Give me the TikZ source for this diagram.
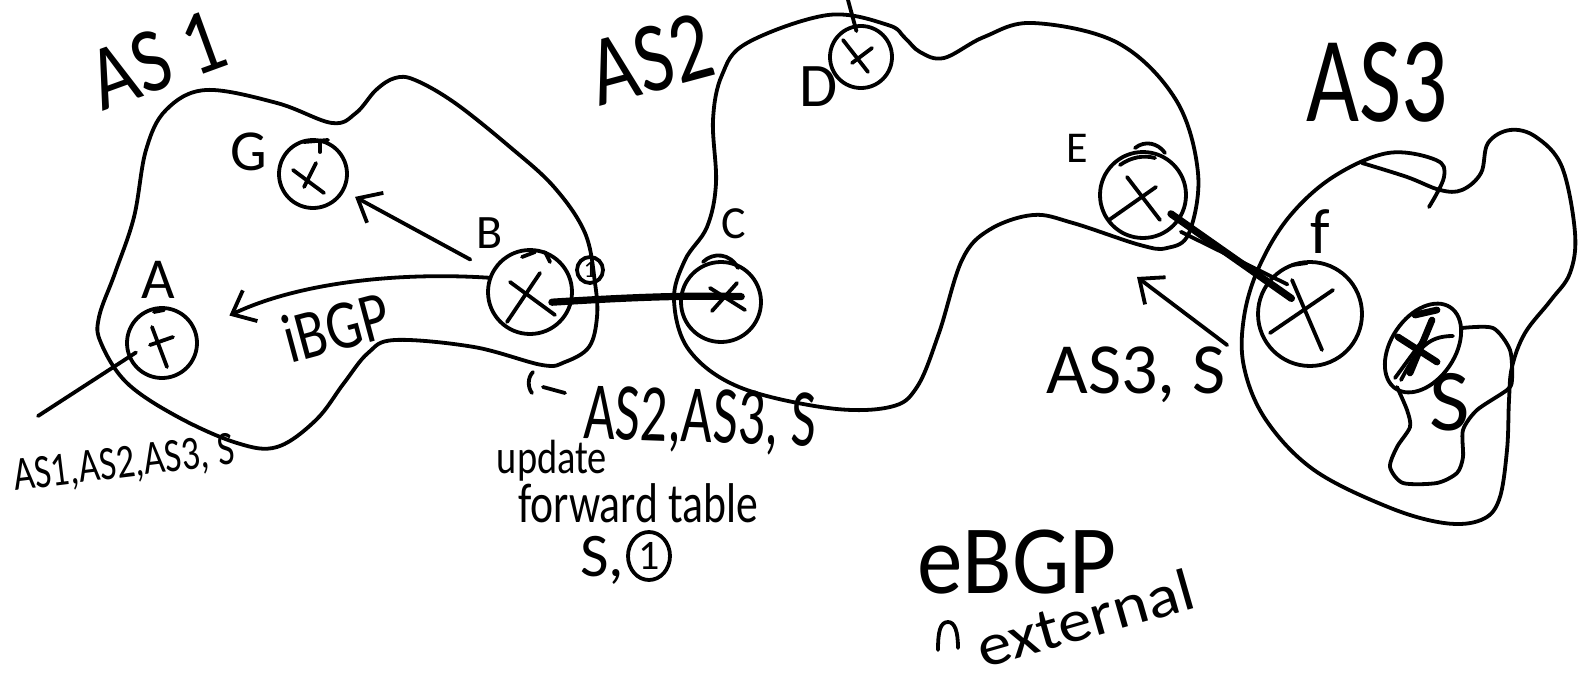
\documentclass[tikz,border=0pt]{standalone}
\usepackage{fontspec}
\setmainfont{Carlito}
\usetikzlibrary{arrows.meta,calc,shapes.geometric}
\newcommand\myfs[1]{\fontsize{#1}{#1}\selectfont}
\begin{document}
\begin{tikzpicture}[x=0.5pt,y=-0.5pt,line width=1.9pt,line cap=round,line join=round,
  router/.style={circle,draw,inner sep=0pt},
  lbl/.style={inner sep=0pt},
  arr/.style={-{Straight Barb[length=10pt,width=17pt]}},
  ebgp/.style={line width=3.6pt},
  heavy/.style={line width=3.4pt}]
\fill[white] (0,0) rectangle (1580,685);
\useasboundingbox (0,0) rectangle (1580,685);

% ---------- AS outlines ----------
\draw plot[smooth cycle,tension=0.6] coordinates {(206,90) (277,103) (332,123) (356,113) (376,90) (395,78) (415,80) (455,103) (510,147) (554,187) (585,233) (595,283) (597,317) (589,347) (565,362) (542,365) (474,347) (395,340) (368,353) (344,383) (316,420) (277,447) (237,443) (178,417) (127,383) (101,343) (99,317) (115,273) (134,217) (146,150) (166,110)};

\draw plot[smooth cycle,tension=0.6] coordinates {(747,43) (828,15) (888,25) (905,38) (920,52) (944,58) (984,37) (1033,23) (1118,43) (1176,100) (1198,173) (1189,233) (1167,248) (1140,245) (1073,223) (1033,215) (989,230) (962,260) (939,333) (917,387) (890,407) (828,408) (739,387) (689,350) (674,300) (685,260) (707,227) (716,183) (713,120) (722,75)};

\draw plot[smooth,tension=0.6] coordinates {(1362,163) (1407,177) (1440,190) (1462,190) (1481,173) (1488,143) (1510,130) (1536,137) (1562,167) (1575,233) (1570,273) (1551,300) (1525,333) (1512,367) (1509,400) (1507,450) (1499,500) (1481,520) (1444,523) (1388,507) (1314,470) (1266,420) (1244,367) (1244,317) (1259,267) (1289,217) (1333,177) (1388,153) (1436,160) (1444,177) (1429,207)};

\draw plot[smooth,tension=0.45] coordinates {(1462,328) (1493,328) (1510,350) (1512,380) (1507,390) (1477,410) (1463,430) (1463,457) (1457,473) (1437,483) (1403,483) (1390,467) (1397,447) (1410,427) (1407,410) (1397,387)};

% ---------- routers ----------
\node[router,minimum size=35pt] (A) at (162,343) {};
\node[router,minimum size=34pt] (G) at (313,174) {};
\node[router,minimum size=42pt] (B) at (530,292) {};
\node[router,minimum size=13pt] (if1) at (590,270) {\myfs{12}1};
\node[router,minimum size=40pt] (C) at (721,302) {};
\node[router,minimum size=31pt] (D) at (861,57) {};
\node[router,minimum size=43pt] (E) at (1143,195) {};
\node[router,minimum size=52pt] (F) at (1310,314) {};
\node[ellipse,draw,inner sep=0pt,minimum width=49pt,minimum height=32pt,rotate=56] (X) at (1423,348) {};

% crosses
\draw ([shift={(-10,-16)}]A.center) -- ([shift={(5,24)}]A.center);
\draw ([shift={(-12,2)}]A.center) -- ([shift={(11,-6)}]A.center);
\draw ([shift={(-8,-31)}]A.center) -- ([shift={(2,-33)}]A.center);
\draw ([shift={(-20,-4)}]G.center) -- ([shift={(11,19)}]G.center);
\draw ([shift={(-9,13)}]G.center) -- ([shift={(3,-11)}]G.center);
\draw ([shift={(-9,-32)}]G.center) -- ([shift={(15,-34)}]G.center);
\draw ([shift={(7,-32)}]G.center) -- ([shift={(7,-22)}]G.center);
\draw ([shift={(-20,-10)}]B.center) -- ([shift={(25,23)}]B.center);
\draw ([shift={(10,-19)}]B.center) -- ([shift={(-23,30)}]B.center);
\draw ([shift={(-8,-35)}]B.center) -- ([shift={(5,-40)}]B.center);
\draw ([shift={(15,-40)}]B.center) -- ([shift={(20,-30)}]B.center);
\draw ([shift={(-11,-14)}]C.center) -- ([shift={(24,8)}]C.center);
\draw ([shift={(16,-19)}]C.center) -- ([shift={(-9,9)}]C.center);
\draw ([shift={(-18,-17)}]D.center) -- ([shift={(7,15)}]D.center);
\draw ([shift={(-9,6)}]D.center) -- ([shift={(11,-9)}]D.center);
\draw ([shift={(-16,-18)}]E.center) -- ([shift={(17,25)}]E.center);
\draw ([shift={(-34,25)}]E.center) -- ([shift={(13,-8)}]E.center);
\draw ([shift={(-18,-34)}]F.center) -- ([shift={(12,36)}]F.center);
\draw ([shift={(-40,19)}]F.center) -- ([shift={(23,-24)}]F.center);
\draw ([shift={(-18,-49)}]F.center) -- ([shift={(-3,-51)}]F.center);
\draw[heavy] ([shift={(-25,-11)}]X.center) -- ([shift={(14,14)}]X.center);
\draw[heavy] ([shift={(9,-28)}]X.center) -- ([shift={(-13,25)}]X.center);
\draw ([shift={(-28,30)}]X.center) -- ([shift={(5,-15)}]X.center);
\draw ([shift={(-22,32)}]X.center) .. controls ([shift={(-5,0)}]X.center) and ([shift={(5,-12)}]X.center) .. ([shift={(30,-12)}]X.center);
\draw[heavy] ([shift={(-8,-33)}]X.center) -- ([shift={(14,-38)}]X.center);

% double arcs on C and E
\draw (703,262) .. controls (713,252) and (730,253) .. (738,268);
\draw (1135,148) .. controls (1145,140) and (1158,143) .. (1165,153);
\draw (1120,165) .. controls (1131,157) and (1144,155) .. (1155,158);

% ---------- labels ----------
\node[lbl,font=\myfs{29}] (lA) at (158,280) {A};
\node[lbl,font=\myfs{29}] (lG) at (249,152) {G};
\node[lbl,font=\myfs{24}] (lB) at (490,233) {B};
\node[lbl,font=\myfs{23}] (lC) at (734,224) {C};
\node[lbl,font=\myfs{31}] (lD) at (819,87) {D};
\node[lbl,font=\myfs{22}] (lE) at (1077,148) {E};
\node[lbl,font=\myfs{32}] (lF) at (1320,232) {f};
\node[lbl,font=\myfs{44}] (lS) at (1450,402) {S};

\node[lbl,font=\myfs{46},rotate=20,xscale=0.85] (as1) at (157,60) {AS 1};
\node[lbl,font=\myfs{50},rotate=15,xscale=0.8] (as2) at (651,59) {AS2};
\node[lbl,font=\myfs{61},xscale=0.75] (as3) at (1377,82) {AS3};
\node[lbl,font=\myfs{35},rotate=15,xscale=0.8] (ibgp) at (336,327) {iBGP};
\node[lbl,font=\myfs{24},rotate=7,xscale=0.76] (path1) at (124,465) {AS1,AS2,AS3, S};
\node[lbl,font=\myfs{41},rotate=-2,xscale=0.66] (path2) at (700,421) {AS2,AS3, S};
\node[lbl,font=\myfs{24},xscale=0.8] (upd) at (552,461) {update};
\node[lbl,font=\myfs{28},xscale=0.78] (fwd) at (638,503) {forward table};
\node[lbl,font=\myfs{31}] (s1) at (602,560) {S,};
\node[ellipse,draw,inner sep=0pt,minimum width=21pt,minimum height=24pt] (one) at (649,556) {\myfs{21}1};
\node[lbl,font=\myfs{36}] (as3s) at (1136,375) {AS3, S};
\node[lbl,font=\myfs{49},xscale=0.93] (ebgp) at (1017,562) {eBGP};
\node[lbl,font=\myfs{30},rotate=16,xscale=1.12] (ext) at (1085,618) {external};

% caret and small mark
\draw (938,650) .. controls (938,632) and (940,622) .. (948,622) .. controls (955,622) and (958,632) .. (958,648);
\draw (533,372) .. controls (527,378) and (528,388) .. (532,393);
\draw (543,387) -- (565,393);

% ---------- connectors ----------
\coordinate (aout) at (38,416);
\coordinate (dout) at (848,0);
\coordinate (tipE) at (1137,277);
\draw ($(A)!0.75!(A.200)$) -- (aout);
\draw ($(D)!0.8!(D.100)$) -- (dout);
\draw[arr,shorten <=12pt,shorten >=6pt] (B) -- (G);
\draw[arr,shorten >=18pt] (B.161) .. controls (400,272) and (300,282) .. (A.19);
\draw[ebgp] ($(B)!0.55!(B.-25)$) .. controls (620,298) and (680,295) .. ($(C)!0.5!(C.15)$);
\draw[ebgp] ($(E)!0.75!(E.-34)$) -- ($(F)!0.45!(F.140)$);
\draw ([shift={(10,18)}]$(E)!0.75!(E.-34)$) -- ([shift={(-4,-14)}]$(F)!0.45!(F.140)$);
\draw[arr] (as3s.north east) -- (tipE);
\end{tikzpicture}
\end{document}
